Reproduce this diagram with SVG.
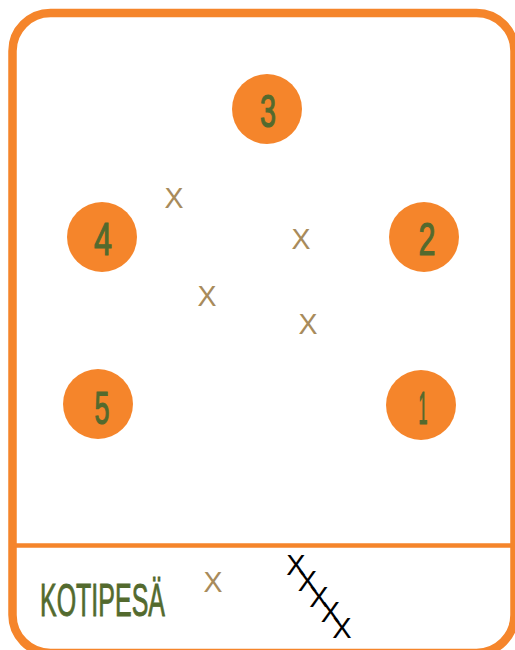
<svg xmlns="http://www.w3.org/2000/svg" width="515" height="650" viewBox="0 0 515 650">
<style>
.frame{fill:#fff;stroke:#f5852b;stroke-width:8.5}
.div{stroke:#f5852b;stroke-width:4.5}
.node circle{fill:#f5852b}
.num{font-family:"Liberation Sans",Arial,sans-serif;font-size:46px;fill:#536a2e;stroke:#536a2e;stroke-width:1.2;text-anchor:middle}
.x{font-family:"Liberation Sans",Arial,sans-serif;font-size:30px;fill:#a88b5b;text-anchor:middle}
.bx{font-family:"Liberation Sans",Arial,sans-serif;font-size:29px;fill:#000;text-anchor:middle}
.lbl{font-family:"Liberation Sans",Arial,sans-serif;font-size:47px;fill:#536a2e;stroke:#536a2e;stroke-width:0.9}
</style>
<rect class="frame" x="12.5" y="13" width="502" height="640" rx="38" ry="38"/>
<line class="div" x1="14" y1="545.5" x2="512" y2="545.5"/>
<g id="node3" class="node"><circle cx="267" cy="109" r="35"/><text class="num" x="268" y="127" textLength="16" lengthAdjust="spacingAndGlyphs">3</text></g>
<g id="node4" class="node"><circle cx="102" cy="237" r="35"/><text class="num" x="103" y="255" textLength="18" lengthAdjust="spacingAndGlyphs">4</text></g>
<g id="node2" class="node"><circle cx="424" cy="237" r="35"/><text class="num" x="427" y="255" textLength="17" lengthAdjust="spacingAndGlyphs">2</text></g>
<g id="node5" class="node"><circle cx="98" cy="404" r="35"/><text class="num" x="102" y="424" textLength="15" lengthAdjust="spacingAndGlyphs">5</text></g>
<g id="node1" class="node"><circle cx="421" cy="405" r="35"/><text class="num" x="423" y="424" textLength="9" lengthAdjust="spacingAndGlyphs">1</text></g>
<g id="marks">
<text class="x" x="174" y="208" textLength="19" lengthAdjust="spacingAndGlyphs">X</text>
<text class="x" x="207" y="306" textLength="19" lengthAdjust="spacingAndGlyphs">X</text>
<text class="x" x="301" y="249" textLength="19" lengthAdjust="spacingAndGlyphs">X</text>
<text class="x" x="308" y="334" textLength="19" lengthAdjust="spacingAndGlyphs">X</text>
<text class="x" x="213" y="592" textLength="19" lengthAdjust="spacingAndGlyphs">X</text>
</g>
<g id="connectors"></g>
<g id="kotipesa">
<text class="lbl" x="40" y="616" textLength="125" lengthAdjust="spacingAndGlyphs">KOTIPESÄ</text>
<text class="bx" x="296" y="575">X</text>
<text class="bx" x="307.5" y="591">X</text>
<text class="bx" x="319" y="607">X</text>
<text class="bx" x="330.5" y="622">X</text>
<text class="bx" x="342" y="638">X</text>
</g>
</svg>
